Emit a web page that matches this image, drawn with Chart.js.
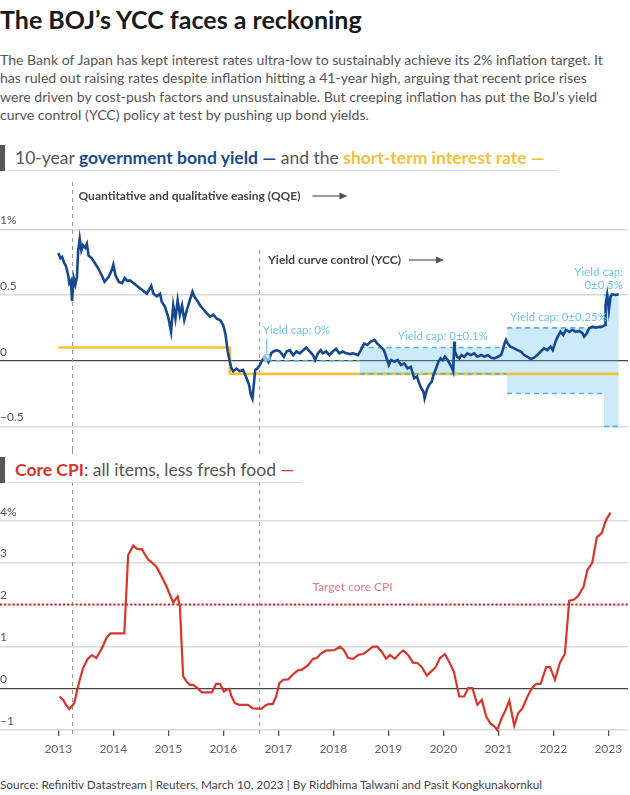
<!DOCTYPE html>
<html>
<head>
<meta charset="utf-8">
<title>The BOJ’s YCC faces a reckoning</title>
<script src="https://cdn.jsdelivr.net/npm/chart.js@4.4.1/dist/chart.umd.min.js"></script>
<style>
  body { margin: 0; background: #fff; font-family: "Lato", "Noto Sans", sans-serif; }
  #page { position: relative; width: 630px; height: 795px; overflow: hidden; }
  #title { position: absolute; left: 0; top: 4px; font-size: 25px; font-weight: 700; color: #1a1a1a; white-space: nowrap; }
  #intro { position: absolute; left: 0; top: 51px; font-size: 14.1px; line-height: 18.4px; color: #555; white-space: nowrap; }
  .head { position: absolute; left: 0; height: 27px; background: #fff; border-bottom: 1.5px solid #ddd; z-index: 2;
          font-size: 17.5px; line-height: 27px; color: #555; white-space: nowrap; padding-left: 15px; box-sizing: border-box; }
  .head::before { content: ""; position: absolute; left: 0; top: 1px; width: 5px; height: 26px; background: #555; }
  #head1 { top: 144px; width: 557px; }
  #head2 { top: 456px; width: 302px; }
  .blue { color: #1b4a8d; font-weight: 700; }
  .gold { color: #f3c13a; font-weight: 700; }
  .red { color: #d7352c; font-weight: 700; }
  .box { position: absolute; left: 0; }
  #box1 { top: 175px; }
  #box2 { top: 450px; }
  #source { position: absolute; left: 0; top: 777px; font-size: 11.8px; color: #444; white-space: nowrap; }
</style>
</head>
<body>
<div id="page">
  <div id="title">The BOJ’s YCC faces a reckoning</div>
  <div id="intro">
    The Bank of Japan has kept interest rates ultra-low to sustainably achieve its 2% inflation target. It<br>
    has ruled out raising rates despite inflation hitting a 41-year high, arguing that recent price rises<br>
    were driven by cost-push factors and unsustainable. But creeping inflation has put the BoJ’s yield<br>
    curve control (YCC) policy at test by pushing up bond yields.
  </div>
  <div class="head" id="head1">10-year <span class="blue">government bond yield —</span> and the <span class="gold">short-term interest rate —</span></div>
  <div class="box" id="box1"><canvas id="yieldChart" width="630" height="275"></canvas></div>
  <div class="head" id="head2"><span class="red">Core CPI</span>: all items, less fresh food <span style="color:#d7352c">—</span></div>
  <div class="box" id="box2"><canvas id="cpiChart" width="630" height="315"></canvas></div>
  <div id="source">Source: Refinitiv Datastream | Reuters, March 10, 2023 | By Riddhima Talwani and Pasit Kongkunakornkul</div>
</div>
<script>
// x axis: years (decimal)
const yearTicks = [2013, 2014, 2015, 2016, 2017, 2018, 2019, 2020, 2021, 2022, 2023];
const xMin = 2011.94, xMax = 2023.358;

// policy dates
const qqeStart = 2013.24;
const yccStart = 2016.65;
const zeroCapStart = 2016.79;

// 10-year JGB yield, %
const yieldYears = [
  2013.00, 2013.04, 2013.07, 2013.10, 2013.14, 2013.18, 2013.20, 2013.23, 2013.25, 2013.28, 2013.31, 2013.34,
  2013.36, 2013.39, 2013.42, 2013.45, 2013.49, 2013.52, 2013.55, 2013.61, 2013.67, 2013.73, 2013.79, 2013.84,
  2013.92, 2013.98, 2014.00, 2014.04, 2014.10, 2014.16, 2014.21, 2014.25, 2014.31, 2014.37, 2014.46, 2014.52,
  2014.61, 2014.69, 2014.73, 2014.79, 2014.85, 2014.88, 2014.94, 2015.00, 2015.05, 2015.09, 2015.13, 2015.17,
  2015.21, 2015.25, 2015.29, 2015.34, 2015.39, 2015.44, 2015.47, 2015.52, 2015.58, 2015.64, 2015.70, 2015.76,
  2015.82, 2015.88, 2015.94, 2016.00, 2016.04, 2016.08, 2016.12, 2016.15, 2016.18, 2016.24, 2016.30, 2016.36,
  2016.42, 2016.47, 2016.50, 2016.53, 2016.56, 2016.58, 2016.62, 2016.67, 2016.71, 2016.76, 2016.82, 2016.87,
  2016.91, 2016.97, 2017.03, 2017.10, 2017.15, 2017.21, 2017.27, 2017.33, 2017.39, 2017.45, 2017.51, 2017.57,
  2017.63, 2017.67, 2017.72, 2017.77, 2017.81, 2017.87, 2017.93, 2017.99, 2018.05, 2018.11, 2018.17, 2018.24,
  2018.30, 2018.36, 2018.45, 2018.50, 2018.56, 2018.62, 2018.68, 2018.75, 2018.80, 2018.86, 2018.92, 2018.96,
  2019.01, 2019.05, 2019.11, 2019.17, 2019.23, 2019.29, 2019.35, 2019.41, 2019.47, 2019.52, 2019.56, 2019.60,
  2019.64, 2019.66, 2019.70, 2019.74, 2019.79, 2019.82, 2019.87, 2019.91, 2019.95, 2019.99, 2020.03, 2020.08,
  2020.13, 2020.16, 2020.18, 2020.20, 2020.21, 2020.25, 2020.29, 2020.33, 2020.38, 2020.44, 2020.50, 2020.56,
  2020.62, 2020.69, 2020.75, 2020.81, 2020.87, 2020.93, 2020.99, 2021.05, 2021.08, 2021.12, 2021.14, 2021.17,
  2021.22, 2021.29, 2021.35, 2021.41, 2021.47, 2021.53, 2021.59, 2021.65, 2021.71, 2021.77, 2021.83, 2021.89,
  2021.95, 2021.99, 2022.04, 2022.08, 2022.13, 2022.18, 2022.23, 2022.29, 2022.35, 2022.41, 2022.47, 2022.53,
  2022.56, 2022.61, 2022.65, 2022.71, 2022.77, 2022.83, 2022.89, 2022.94, 2022.95, 2022.98, 2023.01, 2023.04,
  2023.07, 2023.13, 2023.19
];
const yieldValues = [
  0.82, 0.78, 0.79, 0.75, 0.72, 0.65, 0.59, 0.61, 0.455, 0.63, 0.58, 0.64,
  0.83, 0.93, 0.84, 0.88, 0.86, 0.89, 0.80, 0.78, 0.74, 0.70, 0.65, 0.60,
  0.64, 0.70, 0.73, 0.65, 0.60, 0.59, 0.63, 0.61, 0.61, 0.59, 0.56, 0.54,
  0.51, 0.57, 0.51, 0.49, 0.51, 0.45, 0.41, 0.33, 0.22, 0.42, 0.32, 0.46,
  0.35, 0.42, 0.31, 0.39, 0.46, 0.525, 0.49, 0.46, 0.42, 0.39, 0.36, 0.335,
  0.35, 0.32, 0.31, 0.27, 0.20, 0.07, -0.01, -0.06, -0.08, -0.06, -0.08, -0.07,
  -0.13, -0.185, -0.26, -0.29, -0.16, -0.07, -0.06, -0.03, 0.005, 0.03, -0.01, 0.056,
  0.07, 0.08, 0.07, 0.03, 0.07, 0.08, 0.043, 0.07, 0.056, 0.08, 0.10, 0.07,
  0.043, 0.005, 0.056, 0.08, 0.056, 0.07, 0.043, 0.07, 0.09, 0.056, 0.07, 0.056,
  0.05, 0.056, 0.043, 0.08, 0.13, 0.12, 0.145, 0.158, 0.13, 0.107, 0.08, 0.03,
  -0.033, 0.005, -0.008, 0.005, -0.033, -0.02, -0.058, -0.046, -0.134, -0.12, -0.17, -0.21,
  -0.236, -0.286, -0.223, -0.185, -0.16, -0.11, -0.058, -0.008, 0.018, 0.005, 0.03, 0.005,
  -0.033, -0.058, -0.08, 0.145, 0.07, 0.03, 0.018, 0.043, 0.03, 0.056, 0.043, 0.056,
  0.03, 0.043, 0.03, 0.043, 0.023, 0.018, 0.03, 0.043, 0.08, 0.14, 0.158, 0.13,
  0.107, 0.094, 0.08, 0.07, 0.043, 0.03, 0.013, 0.023, 0.043, 0.07, 0.094, 0.08,
  0.107, 0.08, 0.145, 0.183, 0.22, 0.196, 0.234, 0.22, 0.234, 0.22, 0.226, 0.209,
  0.183, 0.209, 0.247, 0.259, 0.251, 0.259, 0.259, 0.272, 0.42, 0.50, 0.386, 0.487,
  0.506, 0.50, 0.506
];

// short-term policy rate, %
const rateYears = [2013.00, 2016.12, 2023.19];
const rateValues = [0.1, -0.1, -0.1];

// YCC yield cap bands
const capYears = [2018.48, 2021.16, 2022.92, 2023.19];
const capUpper = [0.1, 0.25, 0.5, 0.5];
const capLower = [-0.1, -0.25, -0.5, -0.5];

// core CPI, % y/y
const cpiYears = [
  2013.02, 2013.09, 2013.14, 2013.20, 2013.24, 2013.29, 2013.33, 2013.39, 2013.45, 2013.53, 2013.61, 2013.69,
  2013.76, 2013.82, 2013.88, 2013.95, 2014.03, 2014.12, 2014.20, 2014.27, 2014.32, 2014.36, 2014.44, 2014.52,
  2014.58, 2014.64, 2014.72, 2014.79, 2014.85, 2014.91, 2014.97, 2015.03, 2015.09, 2015.13, 2015.17, 2015.21,
  2015.27, 2015.33, 2015.39, 2015.45, 2015.53, 2015.61, 2015.70, 2015.79, 2015.87, 2015.94, 2016.01, 2016.06,
  2016.11, 2016.15, 2016.21, 2016.29, 2016.36, 2016.45, 2016.53, 2016.60, 2016.70, 2016.76, 2016.82, 2016.90,
  2016.96, 2017.02, 2017.09, 2017.18, 2017.26, 2017.35, 2017.43, 2017.55, 2017.63, 2017.70, 2017.77, 2017.87,
  2017.95, 2018.03, 2018.12, 2018.19, 2018.27, 2018.36, 2018.45, 2018.55, 2018.64, 2018.72, 2018.80, 2018.88,
  2018.96, 2019.03, 2019.12, 2019.20, 2019.27, 2019.36, 2019.45, 2019.53, 2019.61, 2019.70, 2019.78, 2019.86,
  2019.94, 2020.03, 2020.11, 2020.19, 2020.29, 2020.38, 2020.45, 2020.53, 2020.62, 2020.70, 2020.78, 2020.86,
  2020.94, 2020.98, 2021.06, 2021.12, 2021.20, 2021.29, 2021.36, 2021.44, 2021.53, 2021.61, 2021.69, 2021.77,
  2021.87, 2021.94, 2022.03, 2022.12, 2022.21, 2022.29, 2022.37, 2022.45, 2022.55, 2022.62, 2022.71, 2022.79,
  2022.88, 2022.96, 2023.04
];
const cpiValues = [
  -0.2, -0.28, -0.4, -0.5, -0.44, -0.36, -0.12, 0.2, 0.48, 0.69, 0.79, 0.72,
  0.87, 1.03, 1.21, 1.31, 1.31, 1.31, 1.31, 3.18, 3.3, 3.4, 3.32, 3.32,
  3.18, 3.06, 2.98, 2.89, 2.74, 2.58, 2.42, 2.23, 2.04, 2.12, 2.19, 1.95,
  0.28, 0.16, 0.08, 0.08, 0.0, -0.1, -0.1, -0.1, 0.1, 0.1, -0.08, -0.04,
  -0.02, -0.2, -0.36, -0.4, -0.4, -0.4, -0.48, -0.49, -0.49, -0.42, -0.38, -0.38,
  -0.2, 0.12, 0.2, 0.21, 0.32, 0.42, 0.44, 0.56, 0.7, 0.72, 0.82, 0.9,
  0.9, 0.91, 0.99, 0.91, 0.72, 0.7, 0.79, 0.82, 0.91, 0.99, 0.99, 0.87,
  0.7, 0.79, 0.7, 0.82, 0.9, 0.79, 0.61, 0.6, 0.5, 0.3, 0.4, 0.5,
  0.72, 0.81, 0.62, 0.4, -0.2, -0.2, 0.0, 0.0, -0.4, -0.28, -0.68, -0.85,
  -0.93, -1.0, -0.72, -0.56, -0.3, -0.9, -0.6, -0.48, -0.2, 0.0, 0.1, 0.1,
  0.5, 0.5, 0.2, 0.61, 0.82, 2.09, 2.11, 2.2, 2.42, 2.82, 3.0, 3.6,
  3.7, 4.02, 4.19
];
const cpiTarget = 2;

const yieldTicks = [-0.5, 0, 0.5, 1];
const cpiTicks = [-1, 0, 1, 2, 3, 4];

const BLUE = '#17478f';
const GOLD = '#f3c13a';
const CAP = '#4db3e6';
const CAP_TEXT = '#6ec5ec';
const RED = '#d8352d';

Chart.defaults.font.family = 'Lato, "Noto Sans", sans-serif';
Chart.defaults.animation = false;

function pts(xs, ys) {
  return xs.map((x, i) => ({ x: x, y: ys[i] }));
}

// dashed cap edges, broken into segments with null gaps
function capSegments(levels, withZeroCap) {
  const out = [];
  if (withZeroCap) {
    out.push({ x: zeroCapStart, y: 0 }, { x: capYears[0], y: 0 }, { x: capYears[0], y: null });
  }
  for (let i = 0; i < capYears.length - 1; i++) {
    out.push({ x: capYears[i], y: levels[i] }, { x: capYears[i + 1], y: levels[i] }, { x: capYears[i + 1], y: null });
  }
  return out;
}

function flatY(scale) {
  scale.width = 0;
  scale.paddingTop = 0;
  scale.paddingBottom = 0;
}

function fmtTick(top) {
  return function (v) {
    if (v === top) return v + '%';
    return v < 0 ? '\u2212' + Math.abs(v) : String(v);
  };
}

const gridColor = ctx => (ctx.tick && ctx.tick.value === 0 ? '#444' : '#dadada');
const gridWidth = ctx => (ctx.tick && ctx.tick.value === 0 ? 1.2 : 1.5);

function yAxis(min, max, ticks) {
  return {
    min: min, max: max, bounds: 'data',
    afterBuildTicks: s => { s.ticks = ticks.map(v => ({ value: v })); },
    afterFit: flatY,
    border: { display: false },
    grid: { color: gridColor, lineWidth: gridWidth, drawTicks: false },
    ticks: { mirror: true, padding: 0, labelOffset: -9, color: '#555', font: { size: 12 },
             callback: fmtTick(ticks[ticks.length - 1]) }
  };
}

function dashedGuides(chart, tops, extra) {
  const { ctx, chartArea: a, scales: { x } } = chart;
  ctx.save();
  ctx.strokeStyle = '#9a9a9a';
  ctx.lineWidth = 1;
  ctx.setLineDash([4, 4]);
  [qqeStart, yccStart].forEach((yr, i) => {
    const px = Math.round(x.getPixelForValue(yr)) + 0.5;
    ctx.beginPath();
    ctx.moveTo(px, a.top + tops[i]);
    ctx.lineTo(px, a.bottom + extra);
    ctx.stroke();
  });
  ctx.restore();
}

function arrow(ctx, x1, x2, y) {
  ctx.save();
  ctx.strokeStyle = '#555';
  ctx.fillStyle = '#555';
  ctx.lineWidth = 1.2;
  ctx.beginPath();
  ctx.moveTo(x1, y);
  ctx.lineTo(x2 - 6, y);
  ctx.stroke();
  ctx.beginPath();
  ctx.moveTo(x2, y);
  ctx.lineTo(x2 - 8, y - 3.5);
  ctx.lineTo(x2 - 8, y + 3.5);
  ctx.closePath();
  ctx.fill();
  ctx.restore();
}

const yieldNotes = {
  id: 'yieldNotes',
  beforeDatasetsDraw(chart) {
    dashedGuides(chart, [7, 75], 0);
  },
  afterDatasetsDraw(chart) {
    const { ctx, chartArea: a, scales: { x, y } } = chart;
    ctx.save();
    ctx.textBaseline = 'middle';
    ctx.font = 'bold 12px Lato, sans-serif';
    ctx.fillStyle = '#444';
    let tx = x.getPixelForValue(qqeStart) + 7;
    let label = 'Quantitative and qualitative easing (QQE)';
    ctx.fillText(label, tx, a.top + 21);
    let w = ctx.measureText(label).width;
    arrow(ctx, tx + w + 12, tx + w + 47, a.top + 21);

    tx = x.getPixelForValue(yccStart) + 9;
    label = 'Yield curve control (YCC)';
    ctx.fillText(label, tx, a.top + 85);
    w = ctx.measureText(label).width;
    arrow(ctx, tx + w + 8, tx + w + 43, a.top + 85);

    // yield cap labels
    ctx.font = '11.5px Lato, sans-serif';
    ctx.fillStyle = CAP_TEXT;
    const zx = x.getPixelForValue(zeroCapStart);
    const zy = y.getPixelForValue(0);
    ctx.fillText('Yield cap: 0%', zx - 4, zy - 30);
    ctx.strokeStyle = CAP_TEXT;
    ctx.lineWidth = 1.2;
    ctx.beginPath();
    ctx.moveTo(zx, zy - 22);
    ctx.lineTo(zx, zy - 6);
    ctx.stroke();
    ctx.beginPath();
    ctx.arc(zx, zy - 3, 3.2, 0, Math.PI * 2);
    ctx.fillStyle = 'rgba(255,255,255,0.6)';
    ctx.fill();
    ctx.stroke();

    ctx.fillStyle = CAP_TEXT;
    ctx.fillText('Yield cap: 0\u00b10.1%', x.getPixelForValue(capYears[0]) + 38, y.getPixelForValue(capUpper[0]) - 11);
    ctx.fillText('Yield cap: 0\u00b10.25%', x.getPixelForValue(capYears[1]) + 3, y.getPixelForValue(capUpper[1]) - 11);
    ctx.textAlign = 'right';
    ctx.fillText('Yield cap:', a.right - 5, y.getPixelForValue(capUpper[2]) - 23);
    ctx.fillText('0\u00b10.5%', a.right - 5, y.getPixelForValue(capUpper[2]) - 10);
    ctx.restore();
  }
};

const cpiNotes = {
  id: 'cpiNotes',
  beforeDatasetsDraw(chart) {
    dashedGuides(chart, [0, 0], 7);
  },
  afterDatasetsDraw(chart) {
    const { ctx, scales: { x, y } } = chart;
    ctx.save();
    ctx.textBaseline = 'middle';
    ctx.font = '12px Lato, sans-serif';
    ctx.fillStyle = '#e27d7b';
    ctx.fillText('Target core CPI', x.getPixelForValue(2017.62), y.getPixelForValue(cpiTarget) - 17);
    ctx.restore();
  }
};

const noAxisX = { type: 'linear', display: false, min: xMin, max: xMax, bounds: 'data' };

new Chart(document.getElementById('yieldChart'), {
  type: 'line',
  data: {
    datasets: [
      { label: 'cap band', data: pts(capYears, capUpper), stepped: true, fill: '+1',
        backgroundColor: 'rgba(91,187,232,0.3)', borderWidth: 0, pointRadius: 0, order: 6 },
      { label: 'cap band low', data: pts(capYears, capLower), stepped: true, fill: false,
        borderWidth: 0, pointRadius: 0, order: 6 },
      { label: 'Short-term interest rate', data: pts(rateYears, rateValues), stepped: true,
        borderColor: GOLD, borderWidth: 2.6, pointRadius: 0, order: 5 },
      { label: 'cap upper', data: capSegments(capUpper, true), borderColor: CAP, borderWidth: 1.6,
        borderDash: [5, 4], pointRadius: 0, spanGaps: false, order: 4 },
      { label: 'cap lower', data: capSegments(capLower, false), borderColor: CAP, borderWidth: 1.6,
        borderDash: [5, 4], pointRadius: 0, spanGaps: false, order: 4 },
      { label: '10-year government bond yield', data: pts(yieldYears, yieldValues),
        borderColor: BLUE, borderWidth: 2.6, pointRadius: 0, tension: 0, order: 1 }
    ]
  },
  options: {
    responsive: false,
    events: [],
    layout: { padding: { left: 0, right: 2, top: 0, bottom: 0 } },
    plugins: { legend: { display: false }, tooltip: { enabled: false } },
    scales: {
      x: noAxisX,
      y: yAxis(-0.680, 1.414, yieldTicks)
    }
  },
  plugins: [yieldNotes]
});

new Chart(document.getElementById('cpiChart'), {
  type: 'line',
  data: {
    datasets: [
      { label: 'Target core CPI', data: pts([xMin, xMax], [cpiTarget, cpiTarget]),
        borderColor: '#cc2229', borderWidth: 2, borderDash: [2, 2.2], pointRadius: 0, order: 3 },
      { label: 'Core CPI', data: pts(cpiYears, cpiValues), borderColor: RED, borderWidth: 2.2,
        pointRadius: 0, tension: 0, clip: false, order: 1 }
    ]
  },
  options: {
    responsive: false,
    events: [],
    layout: { padding: { left: 0, right: 2, top: 0, bottom: 0 } },
    plugins: { legend: { display: false }, tooltip: { enabled: false } },
    scales: {
      x: {
        type: 'linear', min: xMin, max: xMax, bounds: 'data',
        afterBuildTicks: s => { s.ticks = yearTicks.map(v => ({ value: v })); },
        afterFit: s => { s.height = 35; s.paddingLeft = 0; s.paddingRight = 0; },
        border: { display: false },
        grid: { drawOnChartArea: false, drawTicks: true, tickLength: 6, color: '#555', lineWidth: 1.3 },
        ticks: { color: '#666', font: { size: 12 }, padding: 6, maxRotation: 0, autoSkip: false,
                 callback: v => String(v) }
      },
      y: yAxis(-1, 5.687, cpiTicks)
    }
  },
  plugins: [cpiNotes]
});
</script>
</body>
</html>
